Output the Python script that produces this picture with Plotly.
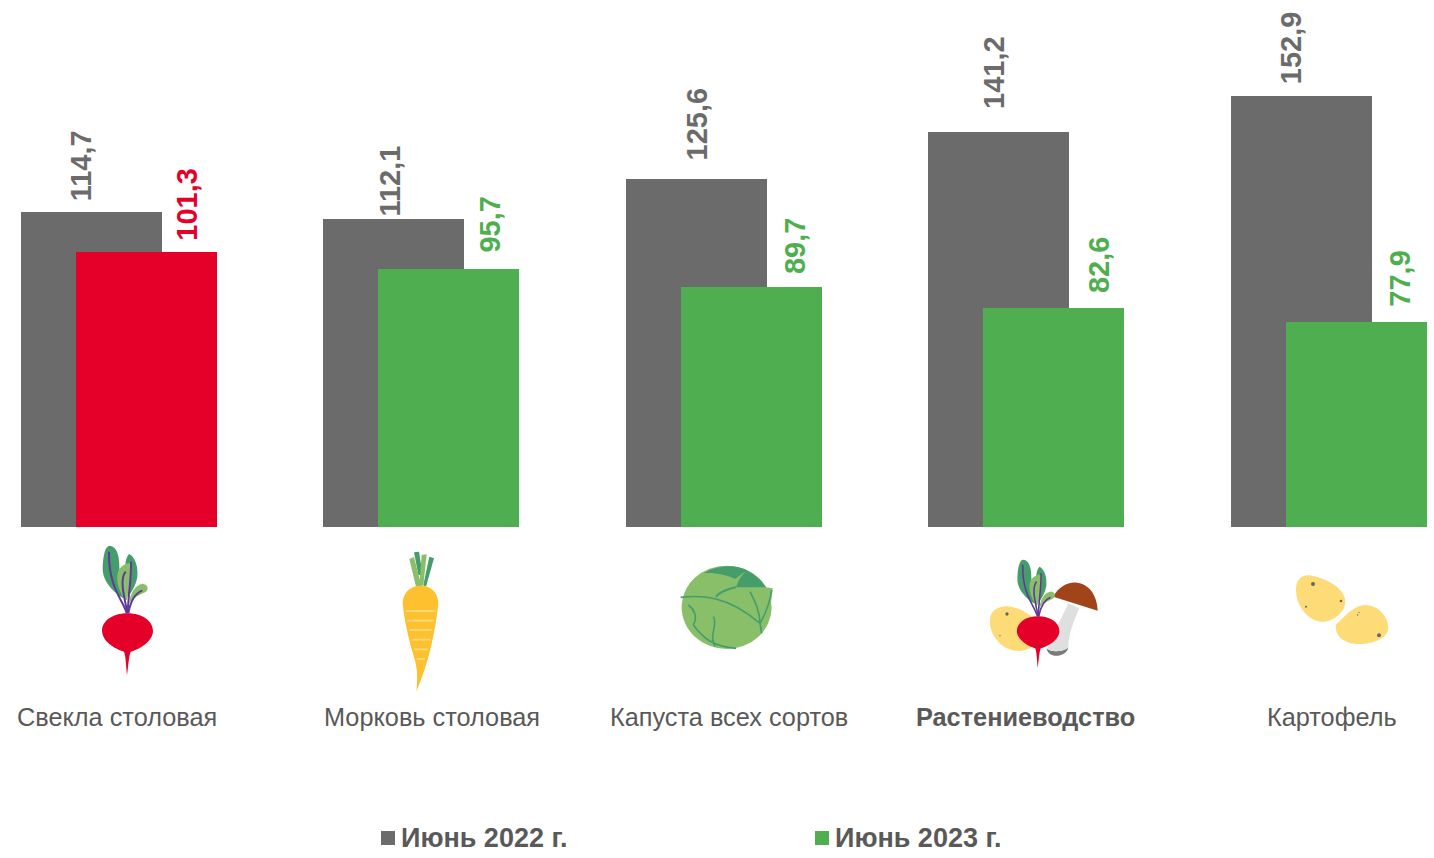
import re
import plotly.graph_objects as go

categories = ["Свекла столовая", "Морковь столовая", "Капуста всех сортов", "Растениеводство", "Картофель"]
june_2022 = [114.7, 112.1, 125.6, 141.2, 152.9]
june_2023 = [101.3, 95.7, 89.7, 82.6, 77.9]
series_names = ["Июнь 2022 г.", "Июнь 2023 г."]
labels_2022 = ["114,7", "112,1", "125,6", "141,2", "152,9"]
labels_2023 = ["101,3", "95,7", "89,7", "82,6", "77,9"]

GREY, GREEN, RED, TEXT = "#6b6b6b", "#4fae50", "#e40029", "#595959"
DARK, LIGHT, PURPLE = "#459d6c", "#8abf69", "#5f3a96"
W, H, BASE_PX = 1434, 858, 527
PX_PER_UNIT, AXIS_MIN = 3.013, 10.0


def fx(x):
    return x / W


def fy(y):
    return (BASE_PX - y) / BASE_PX


fig = go.Figure()
colors_2023 = [RED if i == 0 else GREEN for i in range(len(categories))]
fig.add_bar(x=categories, y=june_2022, name=series_names[0], marker_color=GREY, marker_line_width=0,
            width=0.466, offset=-0.325, showlegend=False)
fig.add_bar(x=categories, y=june_2023, name=series_names[1], marker_color=colors_2023, marker_line_width=0,
            width=0.466, offset=-0.143, showlegend=False)

annotations = []
shift_22 = [(-38, 11), (-32, 4), (-27, 19), (-33, 24), (-38, 13)]
shift_23 = [(68, 12), (68, 17), (71, 14), (73, 16), (71, 17)]
for i, c in enumerate(categories):
    for val, lab, (dx, dy), col in (
        (june_2022[i], labels_2022[i], shift_22[i], GREY),
        (june_2023[i], labels_2023[i], shift_23[i], colors_2023[i]),
    ):
        annotations.append(dict(x=c, y=val, xref="x", yref="y", text=f"<b>{lab}</b>", textangle=-90, showarrow=False,
                                xanchor="center", yanchor="bottom", xshift=dx, yshift=dy - 3,
                                font=dict(family="Liberation Sans", size=29, color=col)))
label_x = [117, 431.5, 729, 1025, 1332]
for i, c in enumerate(categories):
    bold = c == "Растениеводство"
    annotations.append(dict(x=fx(label_x[i]), y=fy(717), xref="paper", yref="paper", text=f"<b>{c}</b>" if bold else c,
                            showarrow=False, xanchor="center", yanchor="middle",
                            font=dict(family="Liberation Sans", size=25.3, color=TEXT)))
for name, x in zip(series_names, [401, 835]):
    annotations.append(dict(x=fx(x), y=fy(838), xref="paper", yref="paper", text=f"<b>{name}</b>", showarrow=False,
                            xanchor="left", yanchor="middle", xshift=-2,
                            font=dict(family="Liberation Sans", size=27, color=TEXT)))

shapes = []
for x, col in zip([381, 815], [GREY, GREEN]):
    shapes.append(dict(type="rect", xref="paper", yref="paper", x0=fx(x), x1=fx(x + 14), y0=fy(831), y1=fy(845),
                       fillcolor=col, line_width=0))


def add_path(d, ox, oy, s, fill=None, stroke=None, lw=0):
    toks = re.findall(r"[MLCZ]|-?[\d.]+", d)
    out, is_x = [], True
    for t in toks:
        if t in "MLCZ":
            out.append(t)
        elif is_x:
            out.append(f"{fx(ox + float(t) * s):.6f},")
            is_x = False
        else:
            out[-1] += f"{fy(oy + float(t) * s):.6f}"
            is_x = True
    shapes.append(dict(type="path", xref="paper", yref="paper", path=" ".join(out),
                       fillcolor=fill if fill else "rgba(0,0,0,0)",
                       line=dict(color=stroke if stroke else "rgba(0,0,0,0)", width=lw)))


def add_dot(cx, cy, r, ox, oy, s, col, ry=None):
    ry = r if ry is None else ry
    shapes.append(dict(type="circle", xref="paper", yref="paper", fillcolor=col, line_width=0,
                       x0=fx(ox + (cx - r) * s), x1=fx(ox + (cx + r) * s),
                       y0=fy(oy + (cy + ry) * s), y1=fy(oy + (cy - ry) * s)))


def beet(ox, oy, s, vein=2.0):
    add_path("M190,190 C150,165 125,130 128,95 C130,60 135,32 150,32 C170,35 178,60 178,95 C178,130 185,160 190,190 Z", ox, oy, s, DARK)
    add_path("M200,170 C195,120 190,75 207,57 C225,65 235,95 232,125 C228,150 215,170 205,185 Z", ox, oy, s, DARK)
    add_path("M195,195 C170,160 165,120 180,100 C190,88 205,82 215,85 C218,110 210,160 200,195 Z", ox, oy, s, LIGHT)
    add_path("M208,205 C210,175 225,150 248,146 C262,148 268,160 258,170 C240,180 220,185 208,205 Z", ox, oy, s, LIGHT)
    for d in ("M200,235 C190,195 145,160 147,50", "M203,235 C188,170 180,130 197,110",
              "M203,235 C205,180 215,120 213,80", "M205,235 C212,195 225,175 247,166"):
        add_path(d, ox, oy, s, None, PURPLE, vein)
    add_path("M202,235 C250,235 280,260 279,290 C275,325 230,345 212,350 C206,365 205,395 201,420 "
             "C198,395 198,365 192,350 C175,345 128,325 126,288 C126,260 155,235 202,235 Z", ox, oy, s, RED)


# beet
beet(60, 535, 1 / 3)

# carrot
o = (60, 535, 1 / 3)
add_path("M1075,120 L1062,52 L1077,50 L1088,120 Z", *o, DARK)
add_path("M1090,150 L1108,65 L1122,70 L1098,155 Z", *o, DARK)
add_path("M1068,155 L1048,72 L1062,66 L1085,155 Z", *o, LIGHT)
add_path("M1078,152 L1085,60 L1100,58 L1090,152 Z", *o, LIGHT)
add_path("M1082,152 C1115,152 1135,175 1135,205 C1130,260 1115,340 1095,400 C1085,430 1075,455 1069,470 "
         "C1075,420 1070,390 1060,360 C1045,310 1032,250 1028,205 C1028,175 1050,152 1082,152 Z", *o, "#fdc12f")
for y, a, b in [(228, 1037, 1127), (257, 1042, 1122), (285, 1048, 1115), (314, 1055, 1112), (343, 1062, 1104), (372, 1070, 1095)]:
    add_path(f"M{a},{y} L{b},{y}", *o, None, "#fdd873", 2)

# cabbage
o = (660, 545, 1 / 3)
add_dot(200, 187, 135, *o, LIGHT, ry=125)
add_path("M130,85 C165,62 235,50 280,88 C298,100 310,115 318,127 L228,127 C232,115 240,95 258,78 L225,102 C200,90 165,82 130,85 Z", *o, DARK)
add_path("M318,127 L338,130 L330,200 Z", *o, LIGHT)
add_path("M168,155 C180,140 210,130 228,127", *o, None, DARK, 2)
for d in ("M62,157 C120,150 200,150 300,235", "M100,240 C130,280 160,305 228,310", "M300,235 C300,200 285,170 270,140",
          "M300,235 C320,200 330,170 335,135", "M305,265 L300,235", "M100,240 C115,215 100,190 85,180", "M165,305 C145,270 175,240 160,215"):
    add_path(d, *o, None, DARK, 1.6)

# crop production group
add_path("M990,225 C990,195 1020,180 1050,185 C1090,190 1120,215 1130,235 L1115,305 C1090,325 1050,320 1025,300 C1000,280 988,250 990,225 Z", *o, "#fddc78")
add_dot(1041, 207, 5, *o, "#666666")
add_dot(1020, 272, 2, *o, "#666666")
add_path("M1160,310 C1170,322 1205,322 1225,308 C1220,335 1165,345 1160,310 Z", *o, "#7b7b7b")
add_path("M1225,175 C1210,210 1180,260 1163,310 C1170,322 1205,322 1225,308 C1225,270 1240,230 1258,190 Z", *o, "#dfdfdf")
add_path("M1180,155 C1195,125 1225,110 1250,113 C1285,115 1312,150 1313,197 Z", *o, "#a2441a")
k = 0.835
beet(660 + 1134 / 3 - 202 * k / 3, 545 + 260 / 3 - 290 * k / 3, k / 3, vein=1.6)

# potatoes
o = (1270, 560, 1 / 3)
add_path("M78,85 C80,55 100,42 125,47 C170,55 225,85 226,125 C225,160 185,188 150,185 C110,180 75,130 78,85 Z", *o, "#fddc78")
add_path("M197,195 C225,170 250,135 285,135 C325,135 355,170 355,205 C350,240 300,255 260,252 C230,250 195,235 197,195 Z", *o, "#fddc78")
for cx, cy, r in [(129, 72, 6), (213, 123, 4), (108, 140, 3), (267, 157, 2), (263, 165, 2), (327, 226, 6)]:
    add_dot(cx, cy, r, *o, "#666666")

x0 = -119.25 / 302.5
fig.update_layout(
    width=W, height=H, autosize=False, barmode="overlay", bargap=0,
    margin=dict(l=0, r=0, t=0, b=H - BASE_PX, pad=0),
    paper_bgcolor="white", plot_bgcolor="white", showlegend=False,
    xaxis=dict(visible=False, type="category", range=[x0, x0 + W / 302.5]),
    yaxis=dict(visible=False, range=[AXIS_MIN, AXIS_MIN + BASE_PX / PX_PER_UNIT]),
    annotations=annotations, shapes=shapes,
)
fig.write_html("out.html", post_script="document.body.style.margin='0';", config={"displayModeBar": False})
